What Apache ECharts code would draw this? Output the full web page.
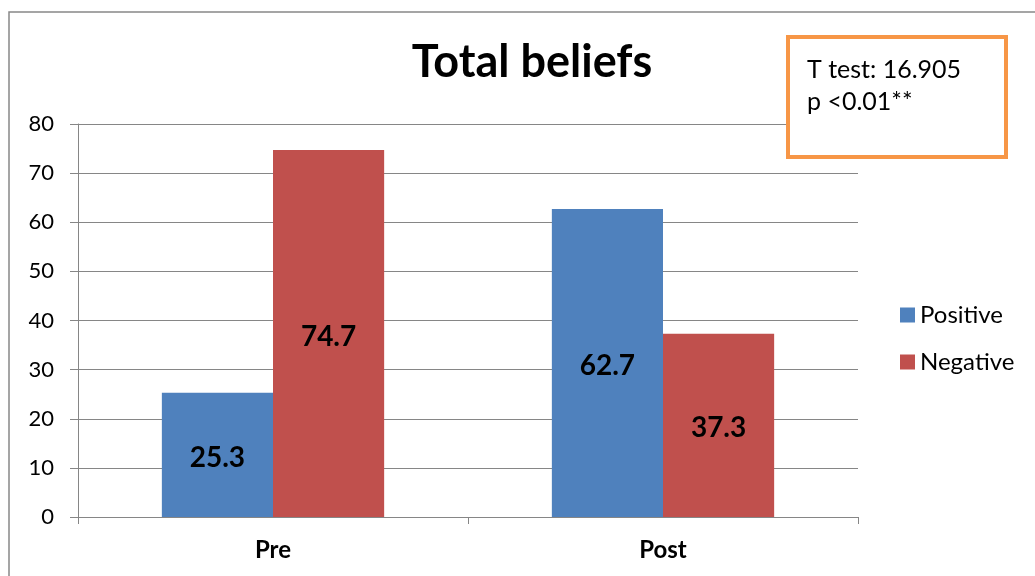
<!DOCTYPE html>
<html>
<head>
<meta charset="utf-8">
<script src="https://cdn.jsdelivr.net/npm/echarts@6/dist/echarts.min.js"></script>
<style>
  html, body { margin: 0; padding: 0; background: #fff; }
  #chart { width: 1035px; height: 576px; }
</style>
</head>
<body>
<div id="chart"></div>
<script>
// data
var categories = ['Pre', 'Post'];
var positiveValues = [25.3, 62.7];
var negativeValues = [74.7, 37.3];
var seriesNames = ['Positive', 'Negative'];
var yTicks = { min: 0, max: 80, interval: 10 };
var noteLines = ['T test: 16.905', 'p <0.01**'];

var font = 'Lato, "Open Sans", sans-serif';
var myChart = echarts.init(document.getElementById('chart'));

var option = {
  animation: false,
  backgroundColor: '#fff',
  title: {
    text: 'Total beliefs',
    left: 527,
    top: 35,
    textAlign: 'center',
    textStyle: { fontFamily: font, fontSize: 45, fontWeight: 'bold', color: '#000' }
  },
  legend: {
    orient: 'vertical',
    left: 895,
    top: 298,
    itemWidth: 15,
    itemHeight: 15,
    itemGap: 23,
    icon: 'rect',
    data: seriesNames,
    textStyle: { fontFamily: font, fontSize: 24, color: '#000' }
  },
  grid: { left: 78, right: 177, top: 124, bottom: 59, containLabel: false },
  xAxis: {
    type: 'category',
    data: categories,
    axisLine: { lineStyle: { color: '#868686', width: 1 } },
    axisTick: { show: true, length: 7, lineStyle: { color: '#868686' } },
    axisLabel: { fontFamily: font, fontSize: 24, fontWeight: 'bold', color: '#000', margin: 21 }
  },
  yAxis: {
    type: 'value',
    min: yTicks.min,
    max: yTicks.max,
    interval: yTicks.interval,
    axisLine: { show: true, lineStyle: { color: '#868686', width: 1 } },
    axisTick: { show: true, length: 8, lineStyle: { color: '#868686' } },
    axisLabel: { fontFamily: font, fontSize: 22, color: '#000', margin: 24 },
    splitLine: { lineStyle: { color: '#868686', width: 1 } }
  },
  series: [
    {
      name: seriesNames[0],
      type: 'bar',
      data: positiveValues,
      barGap: '0%',
      barCategoryGap: '43%',
      itemStyle: { color: '#4f81bd' },
      label: { show: true, position: 'inside', offset: [0, 3], fontFamily: font, fontSize: 28, fontWeight: 'bold', color: '#000' }
    },
    {
      name: seriesNames[1],
      type: 'bar',
      data: negativeValues,
      barGap: '0%',
      barCategoryGap: '43%',
      itemStyle: { color: '#c0504d' },
      label: { show: true, position: 'inside', offset: [0, 3], fontFamily: font, fontSize: 28, fontWeight: 'bold', color: '#000' }
    }
  ],
  graphic: [
    { // outer chart border
      type: 'rect',
      shape: { x: 9, y: 12, width: 1040, height: 580 },
      style: { fill: 'none', stroke: '#888', lineWidth: 1.5 },
      z: -1
    },
    { // annotation box
      type: 'rect',
      shape: { x: 788, y: 37, width: 218, height: 120 },
      style: { fill: '#fff', stroke: '#f79646', lineWidth: 4 },
      z: 10
    },
    {
      type: 'text',
      left: 807,
      top: 54,
      z: 11,
      style: { text: noteLines.join('\n'), fontFamily: font, fontSize: 25, lineHeight: 32, fill: '#000' }
    }
  ]
};

myChart.setOption(option);
</script>
</body>
</html>
